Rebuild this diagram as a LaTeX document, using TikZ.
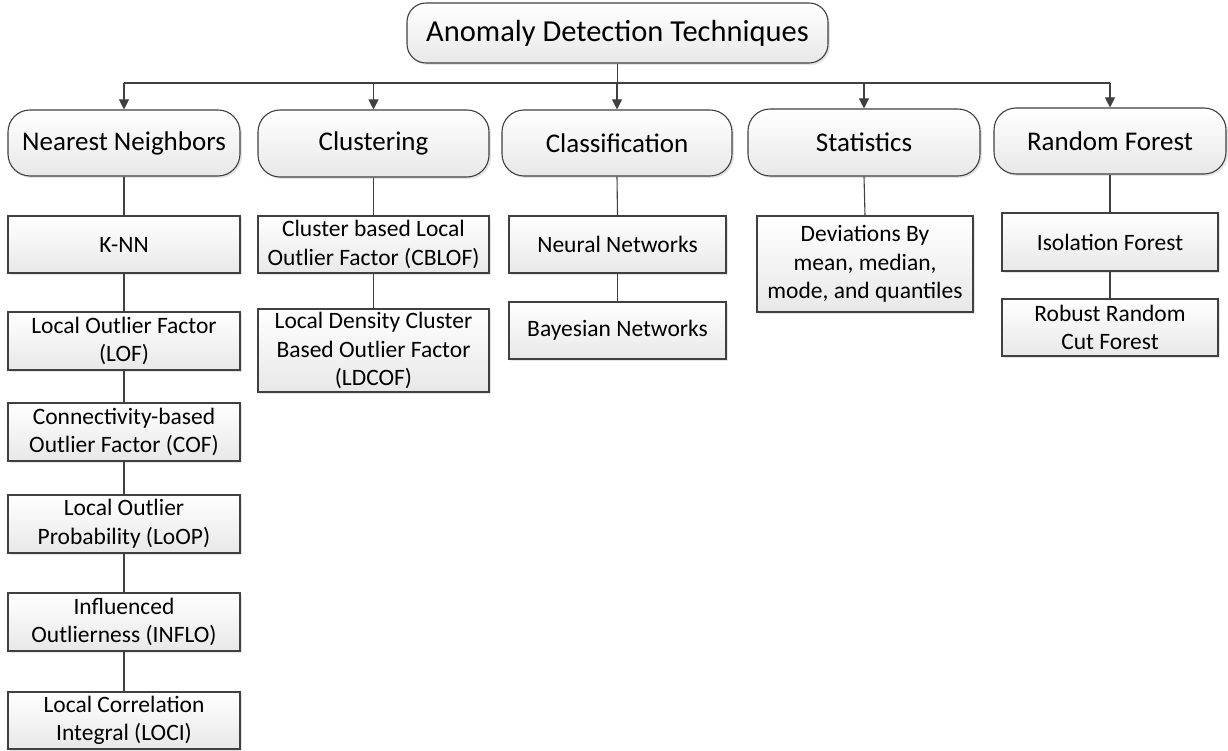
\documentclass[tikz,border=0pt]{standalone}
\usepackage{fontspec}
\setmainfont{Carlito}
\usetikzlibrary{arrows.meta,shadows}
\definecolor{linec}{HTML}{404040}
\tikzset{
  basebox/.style={draw=linec, line width=1.1pt, top color=white, bottom color=black!9,
    drop shadow={shadow xshift=2pt, shadow yshift=-2pt, fill=black!20, opacity=0.5},
    inner sep=0pt, align=center, text=black},
  rootbox/.style={basebox, rounded corners=19pt, font=\fontsize{30.5}{36}\selectfont},
  catbox/.style={basebox, rounded corners=22pt, font=\fontsize{27}{32}\selectfont},
  leafbox/.style={basebox, font=\fontsize{23.5}{28.7}\selectfont},
  conn/.style={draw=linec, line width=1.1pt},
  arr/.style={conn, -{Triangle[length=10pt,width=10pt]}}
}
\newcommand{\bx}[7]{% style, name, x1, x2, y1, y2, text
  \node[#1, minimum width={(#4)-(#3)}, minimum height={(#6)-(#5)}]
    (#2) at ({((#3)+(#4))/2},{((#5)+(#6))/2}) {#7};}
\begin{document}
\begin{tikzpicture}[x=1pt,y=-1pt]
\useasboundingbox (0,0) rectangle (1228,751);
% root
\bx{rootbox}{root}{407}{828}{3}{63}{Anomaly Detection Techniques}
% categories
\bx{catbox}{nn}{8}{240}{110}{176}{Nearest Neighbors}
\bx{catbox}{cl}{258}{489}{110}{177}{Clustering}
\bx{catbox}{cf}{502}{732}{110}{176}{Classification}
\bx{catbox}{st}{748}{980}{109}{176}{Statistics}
\bx{catbox}{rf}{994}{1226}{108}{174}{Random Forest}
% nearest neighbors leaves
\bx{leafbox}{knn}{8}{240}{216}{273}{K-NN}
\bx{leafbox}{lof}{8}{240}{312}{370}{Local Outlier Factor\\(LOF)}
\bx{leafbox}{cof}{8}{240}{403}{461}{Connectivity-based\\Outlier Factor (COF)}
\bx{leafbox}{loop}{8}{240}{495}{553}{Local Outlier\\Probability (LoOP)}
\bx{leafbox}{inflo}{8}{240}{593}{651}{Influenced\\Outlierness (INFLO)}
\bx{leafbox}{loci}{8}{240}{692}{749}{Local Correlation\\Integral (LOCI)}
% clustering leaves
\bx{leafbox}{cblof}{258}{489}{216}{273}{Cluster based Local\\Outlier Factor (CBLOF)}
\bx{leafbox}{ldcof}{258}{489}{309}{392}{Local Density Cluster\\Based Outlier Factor\\(LDCOF)}
% classification leaves
\bx{leafbox}{neural}{509}{726}{216}{273}{Neural Networks}
\bx{leafbox}{bayes}{509}{726}{302}{359}{Bayesian Networks}
% statistics leaf
\bx{leafbox}{dev}{757}{973}{216}{312}{Deviations By\\mean, median,\\mode, and quantiles}
% random forest leaves
\bx{leafbox}{iso}{1002}{1218}{213}{271}{Isolation Forest}
\bx{leafbox}{rrcf}{1002}{1218}{299}{356}{Robust Random\\Cut Forest}
% bus
\coordinate (busL) at (124,83);
\coordinate (busR) at (1110,83);
\draw[conn] (root.south) -- (root.south |- busL);
\draw[conn] (busL) -- (busR);
\foreach \c in {nn,cl,cf,st,rf}{
  \draw[arr] (busL -| \c.north) -- (\c.north);
}
% vertical chains
\draw[conn] (nn.south) -- (knn.north);
\draw[conn] (knn.south) -- (lof.north);
\draw[conn] (lof.south) -- (cof.north);
\draw[conn] (cof.south) -- (loop.north);
\draw[conn] (loop.south) -- (inflo.north);
\draw[conn] (inflo.south) -- (loci.north);
\draw[conn] (cl.south) -- (cblof.north);
\draw[conn] (cblof.south) -- (ldcof.north);
\draw[conn] (cf.south) -- (neural.north);
\draw[conn] (neural.south) -- (bayes.north);
\draw[conn] (st.south) -- (dev.north);
\draw[conn] (rf.south) -- (iso.north);
\draw[conn] (iso.south) -- (rrcf.north);
\end{tikzpicture}
\end{document}
